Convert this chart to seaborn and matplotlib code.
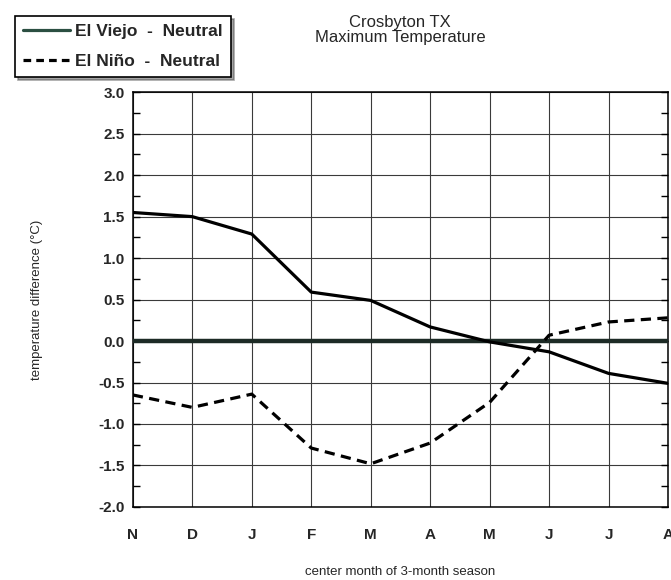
import numpy as np
import pandas as pd
import seaborn as sns
import matplotlib.pyplot as plt
from matplotlib.lines import Line2D
from matplotlib.ticker import MultipleLocator

# Center month of each 3-month season (Nov through Aug)
months = ["N", "D", "J", "F", "M", "A", "M", "J", "J", "A"]
# Maximum temperature difference from neutral years (deg C)
el_viejo = [1.55, 1.50, 1.29, 0.59, 0.49, 0.17, -0.01, -0.13, -0.39, -0.51]
el_nino = [-0.65, -0.80, -0.64, -1.29, -1.48, -1.23, -0.74, 0.07, 0.23, 0.28]
series_names = ["El Viejo  -  Neutral", "El Niño  -  Neutral"]
y_ticks = [3.0, 2.5, 2.0, 1.5, 1.0, 0.5, 0.0, -0.5, -1.0, -1.5, -2.0]

sns.set_theme(style="white")
plt.rcParams["font.family"] = ["Liberation Sans", "DejaVu Sans"]
plt.rcParams["axes.unicode_minus"] = False

df = pd.DataFrame({
    "pos": list(range(len(months))) * 2,
    "value": el_viejo + el_nino,
    "series": [series_names[0]] * len(months) + [series_names[1]] * len(months),
})

fig = plt.figure(figsize=(6.71, 5.80), dpi=100)
ax = fig.add_axes([0.198, 0.126, 0.7975, 0.715])

ax.axhline(0, color="#1d2b26", lw=3.2, zorder=3)

sns.lineplot(
    data=df, x="pos", y="value", hue="series", style="series",
    palette=["black", "black"],
    dashes={series_names[0]: "", series_names[1]: (3.2, 2.0)},
    linewidth=2.3, legend=False, ax=ax, zorder=4,
)

ax.set_xlim(0, len(months) - 1)
ax.set_ylim(-2.0, 3.0)
ax.set_xticks(range(len(months)))
ax.set_xticklabels(months, fontsize=11, fontweight="bold")
ax.set_yticks(y_ticks)
ax.set_yticklabels([f"{v:.1f}" for v in y_ticks], fontsize=11, fontweight="bold")
ax.yaxis.set_minor_locator(MultipleLocator(0.25))
ax.tick_params(axis="x", length=0, pad=15)
ax.tick_params(axis="y", which="both", direction="in", left=True, right=True,
               length=5, width=1, color="black", pad=6)
ax.grid(True, which="major", color="#3a3a3a", lw=0.8)
for sp in ax.spines.values():
    sp.set_visible(True)
    sp.set_color("black")
    sp.set_linewidth(1.1)

ax.set_xlabel("center month of 3-month season", fontsize=9.5)
ax.set_ylabel("temperature difference (°C)", fontsize=9.5)
ax.xaxis.set_label_coords(0.5, -0.143)
ax.yaxis.set_label_coords(-0.168, 0.5)

fig.text(400 / 671, 1 - 30 / 580, "Crosbyton TX\nMaximum Temperature",
         ha="center", va="center", fontsize=12, linespacing=1.0)

handles = [
    Line2D([], [], color="#2b4f42", lw=2.3),
    Line2D([], [], color="black", lw=2.3, ls=(0, (2.4, 1.6))),
]
leg = fig.legend(handles, series_names, loc="upper left",
                 bbox_to_anchor=(0.010, 0.987), frameon=True, shadow=True,
                 fancybox=False, edgecolor="black", handlelength=2.7,
                 handletextpad=0.3, borderpad=0.45, labelspacing=0.85,
                 prop={"size": 12.5, "weight": "bold"})
leg.get_frame().set_linewidth(1.2)

fig.savefig("out.png", dpi=100)
